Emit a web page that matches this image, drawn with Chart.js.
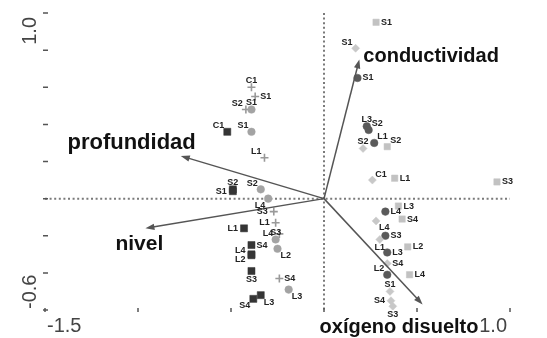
<!DOCTYPE html>
<html>
<head>
<meta charset="utf-8">
<script src="https://cdn.jsdelivr.net/npm/chart.js@4.4.0/dist/chart.umd.min.js"></script>
<style>
  html, body { margin: 0; padding: 0; background: #fff; }
</style>
</head>
<body>
<canvas id="biplot" width="547" height="338"></canvas>
<script>
// axis ticks (only the ends carry a label)
const xTicks = [-1.5, -1.0, -0.5, 0, 0.5, 1.0];
const yTicks = [-0.6, -0.4, -0.2, 0, 0.2, 0.4, 0.6, 0.8, 1.0];
const xTickLabels = ['-1.5', '1.0'];
const yTickLabels = ['-0.6', '1.0'];

// environmental variables (arrow tips)
const envNames = ['conductividad', 'profundidad', 'nivel', 'oxígeno disuelto'];
const envX = [0.19, -0.77, -0.96, 0.53];
const envY = [0.75, 0.23, -0.16, -0.57];

// dark squares
const darkSqLabels = ['C1', 'S2', 'S1', 'L1', 'S4', 'L4', 'L2', 'S3', 'S4', 'L3'];
const darkSqX = [-0.52, -0.49, -0.49, -0.43, -0.39, -0.39, -0.39, -0.39, -0.38, -0.34];
const darkSqY = [0.36, 0.05, 0.04, -0.16, -0.25, -0.30, -0.305, -0.39, -0.54, -0.52];

// light squares
const lightSqLabels = ['S1', 'S2', 'L1', 'S3', 'L3', 'S4', 'L2', 'L4'];
const lightSqX = [0.28, 0.34, 0.38, 0.93, 0.40, 0.42, 0.45, 0.46];
const lightSqY = [0.95, 0.28, 0.11, 0.09, -0.04, -0.11, -0.26, -0.41];

// grey circles (left group)
const greyCircLabels = ['S1', 'S1', 'S2', 'L4', 'S3', 'L2', 'L3'];
const greyCircX = [-0.39, -0.39, -0.34, -0.30, -0.26, -0.25, -0.19];
const greyCircY = [0.48, 0.36, 0.05, 0.0, -0.22, -0.27, -0.49];

// crosses
const crossLabels = ['C1', 'S1', 'S2', 'L1', 'S3', 'L1', 'L4', 'S4'];
const crossX = [-0.39, -0.37, -0.42, -0.32, -0.27, -0.26, -0.24, -0.24];
const crossY = [0.60, 0.55, 0.48, 0.22, -0.07, -0.13, -0.19, -0.43];

// dark circles (right group)
const darkCircLabels = ['S1', 'L3', 'S2', 'L1', 'L4', 'S3', 'L3', 'L2'];
const darkCircX = [0.18, 0.23, 0.24, 0.27, 0.33, 0.33, 0.34, 0.34];
const darkCircY = [0.65, 0.39, 0.37, 0.30, -0.07, -0.20, -0.29, -0.41];

// diamonds
const diamondLabels = ['S1', 'S2', 'C1', 'L4', 'L1', 'S4', 'S1', 'S4', 'S3'];
const diamondX = [0.17, 0.21, 0.26, 0.28, 0.30, 0.34, 0.355, 0.36, 0.37];
const diamondY = [0.81, 0.27, 0.10, -0.12, -0.22, -0.35, -0.50, -0.55, -0.58];

// where each label sits next to its marker
const darkSqSide = ['al', 'a', 'l', 'l', 'r', 'lu', 'ld', 'b', 'bl', 'br'];
const lightSqSide = ['r', 'ar', 'r', 'r', 'r', 'r', 'r', 'r'];
const greyCircSide = ['a', 'al', 'al', 'bl', 'a', 'br', 'br'];
const crossSide = ['a', 'r', 'al', 'al', 'l', 'l', 'l', 'r'];
const darkCircSide = ['r', 'a', 'ar', 'ar', 'r', 'r', 'r', 'al'];
const diamondSide = ['al', 'a', 'ar', 'br', 'b', 'r', 'a', 'l', 'b'];

const toPoints = (xs, ys) => xs.map((v, i) => ({ x: v, y: ys[i] }));

const makeSet = (xs, ys, labels, sides, style, radius, color, border) => ({
    data: toPoints(xs, ys),
    pointLabels: labels,
    pointSides: sides,
    pointStyle: style,
    pointRadius: radius,
    backgroundColor: color,
    borderColor: border || color,
    borderWidth: style === 'cross' ? 1.6 : 0.5
});

// offsets for point labels
const sideOffset = {
    r: [5, 0, 'left'], l: [-6, 0, 'right'], a: [0, -7, 'center'], b: [0, 8, 'center'],
    ar: [3, -6, 'left'], al: [-3, -6, 'right'], br: [3, 7, 'left'], bl: [-3, 7, 'right'],
    lu: [-6, -4, 'right'], ld: [-6, 4, 'right']
};

// arrow label placement relative to the arrow tip
const envLabelOffset = [[4, 3, 'left'], [15, -7, 'right'], [-30, 22, 'left'], [-103, 29, 'left']];
const envFontSize = [20, 22, 21, 20];

const biplotPlugin = {
    id: 'biplot',
    beforeDatasetsDraw(chart) {
        const { ctx, chartArea: a, scales: { x, y } } = chart;
        const x0 = x.getPixelForValue(0);
        const y0 = y.getPixelForValue(0);
        ctx.save();
        // dotted zero lines
        ctx.strokeStyle = '#7a7a7a';
        ctx.lineWidth = 2;
        ctx.setLineDash([2, 2.6]);
        ctx.beginPath();
        ctx.moveTo(a.left, y0);
        ctx.lineTo(a.right, y0);
        ctx.moveTo(x0, a.top);
        ctx.lineTo(x0, a.bottom);
        ctx.stroke();
        ctx.setLineDash([]);
        // tick marks
        ctx.strokeStyle = '#555';
        ctx.lineWidth = 1.5;
        ctx.beginPath();
        xTicks.forEach(t => {
            const px = x.getPixelForValue(t);
            ctx.moveTo(px, a.bottom - 2);
            ctx.lineTo(px, a.bottom + 2);
        });
        yTicks.forEach(t => {
            const py = y.getPixelForValue(t);
            ctx.moveTo(a.left - 2, py);
            ctx.lineTo(a.left + 3, py);
        });
        ctx.stroke();
        ctx.restore();
    },
    afterDatasetsDraw(chart) {
        const { ctx, chartArea: a, scales: { x, y } } = chart;
        const x0 = x.getPixelForValue(0);
        const y0 = y.getPixelForValue(0);
        ctx.save();

        // arrows
        ctx.strokeStyle = '#555';
        ctx.fillStyle = '#555';
        ctx.lineWidth = 1.5;
        envX.forEach((v, i) => {
            const tx = x.getPixelForValue(v);
            const ty = y.getPixelForValue(envY[i]);
            const ang = Math.atan2(ty - y0, tx - x0);
            ctx.beginPath();
            ctx.moveTo(x0, y0);
            ctx.lineTo(tx - 6 * Math.cos(ang), ty - 6 * Math.sin(ang));
            ctx.stroke();
            ctx.beginPath();
            ctx.moveTo(tx, ty);
            ctx.lineTo(tx - 9 * Math.cos(ang) + 3.2 * Math.sin(ang), ty - 9 * Math.sin(ang) - 3.2 * Math.cos(ang));
            ctx.lineTo(tx - 9 * Math.cos(ang) - 3.2 * Math.sin(ang), ty - 9 * Math.sin(ang) + 3.2 * Math.cos(ang));
            ctx.closePath();
            ctx.fill();
        });

        // point labels
        ctx.fillStyle = '#222';
        ctx.font = 'bold 9px "Liberation Sans", Arial, sans-serif';
        ctx.textBaseline = 'middle';
        chart.data.datasets.forEach((ds, i) => {
            const meta = chart.getDatasetMeta(i);
            meta.data.forEach((el, j) => {
                const off = sideOffset[ds.pointSides[j]];
                ctx.textAlign = off[2];
                ctx.fillText(ds.pointLabels[j], el.x + off[0], el.y + off[1]);
            });
        });

        // arrow labels
        ctx.fillStyle = '#111';
        ctx.textBaseline = 'alphabetic';
        envNames.forEach((name, i) => {
            const tx = x.getPixelForValue(envX[i]);
            const ty = y.getPixelForValue(envY[i]);
            const off = envLabelOffset[i];
            ctx.font = 'bold ' + envFontSize[i] + 'px "Liberation Sans", Arial, sans-serif';
            ctx.textAlign = off[2];
            ctx.fillText(name, tx + off[0], ty + off[1]);
        });

        // end tick labels
        ctx.fillStyle = '#444';
        ctx.font = '20px "Liberation Sans", Arial, sans-serif';
        ctx.textAlign = 'left';
        ctx.fillText(xTickLabels[0], x.getPixelForValue(xTicks[0]) + 2, a.bottom + 22);
        ctx.textAlign = 'right';
        ctx.fillText(xTickLabels[1], x.getPixelForValue(xTicks[xTicks.length - 1]) - 3, a.bottom + 22);

        ctx.save();
        ctx.translate(a.left - 9, y.getPixelForValue(yTicks[0]) - 1);
        ctx.rotate(-Math.PI / 2);
        ctx.textAlign = 'left';
        ctx.fillText(yTickLabels[0], 0, 0);
        ctx.restore();
        ctx.save();
        ctx.translate(a.left - 9, y.getPixelForValue(yTicks[yTicks.length - 1]) + 4);
        ctx.rotate(-Math.PI / 2);
        ctx.textAlign = 'right';
        ctx.fillText(yTickLabels[1], 0, 0);
        ctx.restore();

        ctx.restore();
    }
};

const biplotCanvas = document.getElementById('biplot').getContext('2d');

new Chart(biplotCanvas, {
    type: 'scatter',
    data: {
        datasets: [
            makeSet(lightSqX, lightSqY, lightSqLabels, lightSqSide, 'rect', 4.5, '#c2c2c2'),
            makeSet(diamondX, diamondY, diamondLabels, diamondSide, 'rectRot', 4, '#c8c8c8'),
            makeSet(greyCircX, greyCircY, greyCircLabels, greyCircSide, 'circle', 3.8, '#a3a3a3'),
            makeSet(darkCircX, darkCircY, darkCircLabels, darkCircSide, 'circle', 3.8, '#5a5a5a'),
            makeSet(crossX, crossY, crossLabels, crossSide, 'cross', 4, '#999', '#999'),
            makeSet(darkSqX, darkSqY, darkSqLabels, darkSqSide, 'rect', 5, '#353535')
        ]
    },
    options: {
        responsive: false,
        animation: false,
        layout: { padding: { left: 45, right: 37, top: 13, bottom: 28 } },
        scales: {
            x: { type: 'linear', min: -1.5, max: 1.0, display: false },
            y: { type: 'linear', min: -0.6, max: 1.0, display: false }
        },
        plugins: {
            legend: { display: false },
            tooltip: { enabled: false }
        }
    },
    plugins: [biplotPlugin]
});
</script>
</body>
</html>
